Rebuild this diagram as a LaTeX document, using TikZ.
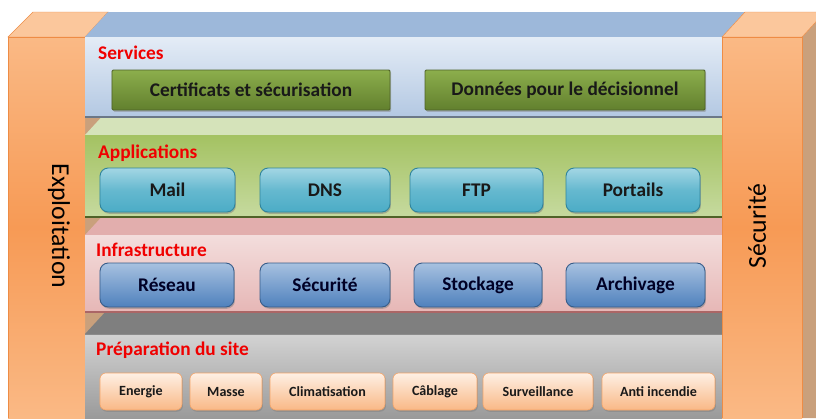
\documentclass[tikz,border=0pt]{standalone}
\usepackage{fontspec}
\setmainfont{Carlito}
\usetikzlibrary{shadows}
\definecolor{pilA}{HTML}{FAB985}
\definecolor{pilB}{HTML}{F79A55}
\definecolor{piltop}{HTML}{FBC79C}
\definecolor{pilside}{HTML}{C9A07C}
\definecolor{pilline}{HTML}{EE8C45}
\definecolor{srvtop}{HTML}{9DB8DA}
\definecolor{srvA}{HTML}{E4ECF6}
\definecolor{srvB}{HTML}{B3C8E2}
\definecolor{apptop}{HTML}{D5E3BA}
\definecolor{appA}{HTML}{A4C262}
\definecolor{appB}{HTML}{C6DA9F}
\definecolor{inftop}{HTML}{E2AEAD}
\definecolor{infA}{HTML}{F3DDDC}
\definecolor{infB}{HTML}{E6B7B6}
\definecolor{preptop}{HTML}{7F7F7F}
\definecolor{prepA}{HTML}{D3D3D3}
\definecolor{prepB}{HTML}{9A9A9A}
\definecolor{grnA}{HTML}{8CAE4C}
\definecolor{grnB}{HTML}{62802E}
\definecolor{grnline}{HTML}{4F6228}
\definecolor{tealA}{HTML}{A3D6E4}
\definecolor{tealB}{HTML}{4BACC6}
\definecolor{tealline}{HTML}{31859C}
\definecolor{bluA}{HTML}{A7C1E0}
\definecolor{bluB}{HTML}{4F81BD}
\definecolor{blueline}{HTML}{385D8A}
\definecolor{pchA}{HTML}{FEF0E4}
\definecolor{pchB}{HTML}{F9B886}
\definecolor{pchline}{HTML}{F4A366}
\definecolor{lblred}{HTML}{F00000}
\tikzset{
  lbl/.style={anchor=west, text=lblred, font=\fontsize{16.5}{19}\selectfont\bfseries, inner sep=0pt},
  base/.style={inner sep=0pt, font=\fontsize{16.5}{19}\selectfont\bfseries, text=black!90},
  grnbox/.style={base, rounded corners=1pt, draw=grnline, line width=0.8pt,
    top color=grnA, bottom color=grnB, minimum height=1.2cm,
    drop shadow={shadow xshift=1pt, shadow yshift=-1.5pt, opacity=0.45}},
  tealbox/.style={base, rounded corners=7pt, draw=tealline, line width=0.8pt,
    top color=tealA, bottom color=tealB, middle color=tealB!70!tealA, minimum height=1.32cm,
    drop shadow={shadow xshift=0.8pt, shadow yshift=-1.5pt, opacity=0.5}},
  blubox/.style={base, rounded corners=7pt, draw=blueline, line width=0.8pt,
    top color=bluA, bottom color=bluB, minimum height=1.32cm, text=black!85!blue,
    drop shadow={shadow xshift=0.8pt, shadow yshift=-1.5pt, opacity=0.5}},
  pchbox/.style={base, font=\fontsize{12}{14}\selectfont\bfseries, rounded corners=5pt,
    draw=pchline, line width=0.5pt, top color=pchA, bottom color=pchB, minimum height=1.11cm,
    drop shadow={shadow xshift=0.8pt, shadow yshift=-1.5pt, opacity=0.5}},
  piltext/.style={font=\fontsize{22}{26}\selectfont, text=black, inner sep=0pt},
}
\begin{document}
\begin{tikzpicture}[x=0.03cm,y=-0.03cm]
\useasboundingbox (0,0) rectangle (816,418);
\clip (0,0) rectangle (816,418);
\fill[white] (0,0) rectangle (816,418);
% left pillar
\fill[pilside] (85,37) -- (108,12) -- (108,418) -- (85,418) -- cycle;
\filldraw[fill=piltop, draw=pilline, line width=0.4pt] (8,37) -- (33,12) -- (108,12) -- (85,37) -- cycle;
\shade[top color=pilA, bottom color=pilA, middle color=pilB] (8,37) rectangle (85,418);
\draw[pilline, line width=0.4pt] (8,418) -- (8,37) -- (85,37);
% layer: preparation
\fill[preptop] (85,334) -- (108,309) -- (745,309) -- (722,334) -- cycle;
\shade[top color=prepA, bottom color=prepB] (85,334) rectangle (722,418);
\draw[black!45, line width=0.6pt] (85,334) -- (722,334);
% layer: infrastructure
\fill[inftop] (85,235) -- (108,210) -- (745,210) -- (722,235) -- cycle;
\shade[top color=infA, bottom color=infB] (85,235) rectangle (722,312);
\draw[red!45!black!60, line width=1pt] (85,312) -- (722,312);
% layer: applications
\fill[apptop] (85,135) -- (108,110) -- (745,110) -- (722,135) -- cycle;
\shade[top color=appA, bottom color=appB] (85,135) rectangle (722,217);
\draw[grnline, line width=1.2pt] (85,217) -- (722,217);
% layer: services
\fill[srvtop] (85,37) -- (108,12) -- (745,12) -- (722,37) -- cycle;
\shade[top color=srvA, bottom color=srvB] (85,37) rectangle (722,117);
\draw[black!40!srvB, line width=1.2pt] (85,117) -- (722,117);
% right pillar
\fill[pilside] (802,37) -- (825,12) -- (825,418) -- (802,418) -- cycle;
\filldraw[fill=piltop, draw=pilline, line width=0.4pt] (722,37) -- (745,12) -- (825,12) -- (802,37) -- cycle;
\shade[top color=pilA, bottom color=pilA, middle color=pilB] (722,37) rectangle (802,418);
\draw[pilline, line width=0.4pt] (722,418) -- (722,37) -- (802,37) -- (802,418);
% pillar texts
\node[piltext, rotate=-90] (expl) at (59,226) {Exploitation};
\node[piltext, rotate=90] (secu) at (757,226) {Sécurité};
% labels
\node[lbl] (lsrv) at (98,53) {Services};
\node[lbl] (lapp) at (98,153) {Applications};
\node[lbl] (linf) at (96,250) {Infrastructure};
\node[lbl] (lprep) at (96,350) {Préparation du site};
% services boxes
\node[grnbox, minimum width=8.34cm] (cert) at (251,90) {Certificats et sécurisation};
\node[grnbox, minimum width=8.4cm] (donn) at (565,90) {Données pour le décisionnel};
% application boxes
\node[tealbox, minimum width=4.05cm] (mail) at (167.5,190) {Mail};
\node[tealbox, minimum width=3.9cm] (dns) at (325,190) {DNS};
\node[tealbox, minimum width=3.99cm] (ftp) at (476.5,190) {FTP};
\node[tealbox, minimum width=4.02cm] (port) at (633,190) {Portails};
% infrastructure boxes
\node[blubox, minimum width=4.02cm] (res) at (167,285) {Réseau};
\node[blubox, minimum width=3.9cm] (sec) at (325,285) {Sécurité};
\node[blubox, minimum width=3.84cm] (stock) at (478,285) {Stockage};
\node[blubox, minimum width=4.17cm] (arch) at (635.5,285) {Archivage};
% preparation boxes
\node[pchbox, minimum width=2.46cm] (ener) at (141,391.5) {Energie};
\node[pchbox, minimum width=2.16cm] (mass) at (226,391.5) {Masse};
\node[pchbox, minimum width=3.45cm] (clim) at (327.5,391.5) {Climatisation};
\node[pchbox, minimum width=2.52cm] (cabl) at (435,391.5) {Câblage};
\node[pchbox, minimum width=3.3cm] (surv) at (538,391.5) {Surveillance};
\node[pchbox, minimum width=3.39cm] (anti) at (658.5,391.5) {Anti incendie};
\end{tikzpicture}
\end{document}
